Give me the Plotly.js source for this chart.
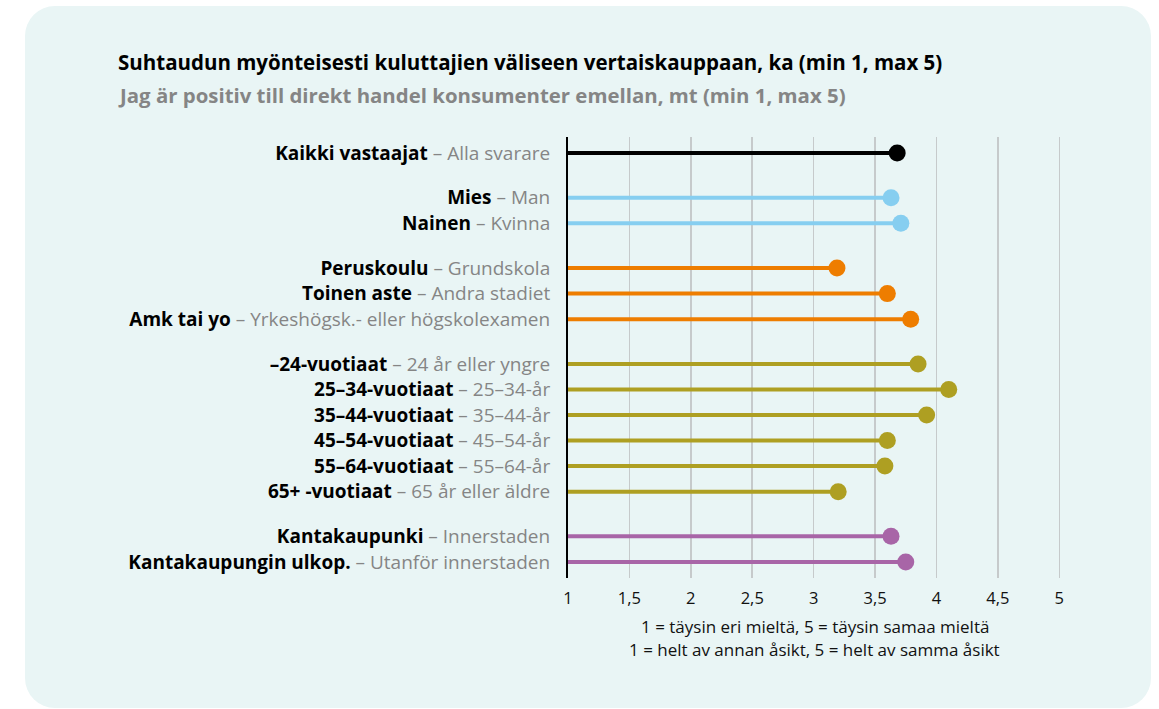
<!DOCTYPE html>
<html>
<head>
<meta charset="utf-8">
<script src="https://cdn.plot.ly/plotly-3.0.1.min.js"></script>
<style>
  html, body { margin: 0; padding: 0; background: #ffffff; }
  #panel {
    position: absolute; left: 25px; top: 6px; width: 1126px; height: 702px;
    background: #e9f5f5; border-radius: 30px;
  }
  #chart { position: absolute; left: 0; top: 0; width: 1159px; height: 709px; }
</style>
</head>
<body>
<div id="panel"></div>
<div id="chart"></div>
<script>
// Kategoriat (fi / sv), ryhmät ja keskiarvot
const labelsFi = ['Kaikki vastaajat', 'Mies', 'Nainen', 'Peruskoulu', 'Toinen aste', 'Amk tai yo',
    '–24-vuotiaat', '25–34-vuotiaat', '35–44-vuotiaat', '45–54-vuotiaat', '55–64-vuotiaat', '65+ -vuotiaat',
    'Kantakaupunki', 'Kantakaupungin ulkop.'];
const labelsSv = ['Alla svarare', 'Man', 'Kvinna', 'Grundskola', 'Andra stadiet', 'Yrkeshögsk.- eller högskolexamen',
    '24 år eller yngre', '25–34-år', '35–44-år', '45–54-år', '55–64-år', '65 år eller äldre',
    'Innerstaden', 'Utanför innerstaden'];
const groups = [0, 1, 1, 2, 2, 2, 3, 3, 3, 3, 3, 3, 4, 4];
const values = [3.68, 3.63, 3.71, 3.19, 3.60, 3.79, 3.85, 4.10, 3.92, 3.60, 3.58, 3.20, 3.63, 3.75];
const groupColors = ['#000000', '#86cef0', '#ee7d00', '#ae9f22', '#a865a7'];
const xTicks = [1, 1.5, 2, 2.5, 3, 3.5, 4, 4.5, 5];
const xTickText = ['1', '1,5', '2', '2,5', '3', '3,5', '4', '4,5', '5'];

// rivien paikat: ryhmien väliin pieni lisäväli
const GAP = 0.75;
const pos = values.map((v, i) => i + groups[i] * GAP);

const traces = [];
groupColors.forEach((c, g) => {
    const xs = [], ys = [];
    values.forEach((v, i) => {
        if (groups[i] !== g) return;
        xs.push(1, v, null);
        ys.push(pos[i], pos[i], null);
    });
    traces.push({ x: xs, y: ys, mode: 'lines', line: { color: c, width: 4 }, hoverinfo: 'skip' });
    traces.push({
        x: values.filter((v, i) => groups[i] === g),
        y: pos.filter((p, i) => groups[i] === g),
        mode: 'markers', marker: { color: c, size: 17 }
    });
});

const tickText = labelsFi.map((f, i) =>
    '<b>' + f + '</b><span style="color:#858585"> – ' + labelsSv[i] + '</span>');

const FONT = '"Open Sans", sans-serif';

Plotly.newPlot('chart', traces, {
    width: 1159, height: 709,
    paper_bgcolor: 'rgba(0,0,0,0)', plot_bgcolor: 'rgba(0,0,0,0)',
    margin: { l: 568, r: 69, t: 137, b: 131 },
    showlegend: false,
    font: { family: FONT, color: '#000000' },
    xaxis: {
        range: [1, 5.25], tickvals: xTicks, ticktext: xTickText,
        showgrid: true, gridcolor: '#c6cacb', gridwidth: 1.5, zeroline: false,
        showline: false, ticks: '', ticklabelstandoff: 8, tickfont: { size: 16.5, color: '#111' }
    },
    yaxis: {
        range: [16 + 0.63, -0.63], tickvals: pos, ticktext: tickText,
        showgrid: false, zeroline: false, showline: true, linecolor: '#000', linewidth: 2,
        ticks: '', ticklabelstandoff: 12, tickfont: { size: 19, color: '#000' }
    },
    annotations: [
        { xref: 'paper', yref: 'paper', x: -0.866, y: 1.170, xanchor: 'left', yanchor: 'middle', showarrow: false,
          text: '<b>Suhtaudun myönteisesti kuluttajien väliseen vertaiskauppaan, ka (min 1, max 5)</b>',
          font: { size: 20.5, color: '#000' } },
        { xref: 'paper', yref: 'paper', x: -0.866, y: 1.095, xanchor: 'left', yanchor: 'middle', showarrow: false,
          text: '<b>Jag är positiv till direkt handel konsumenter emellan, mt (min 1, max 5)</b>',
          font: { size: 20.4, color: '#858585' } },
        { xref: 'paper', yref: 'paper', x: 0.473, y: -0.110, xanchor: 'center', yanchor: 'middle', showarrow: false,
          text: '1 = täysin eri mieltä, 5 = täysin samaa mieltä', font: { size: 17, color: '#111' } },
        { xref: 'paper', yref: 'paper', x: 0.473, y: -0.162, xanchor: 'center', yanchor: 'middle', showarrow: false,
          text: '1 = helt av annan åsikt, 5 = helt av samma åsikt', font: { size: 17, color: '#111' } }
    ]
}, { displayModeBar: false, staticPlot: true });
</script>
</body>
</html>
